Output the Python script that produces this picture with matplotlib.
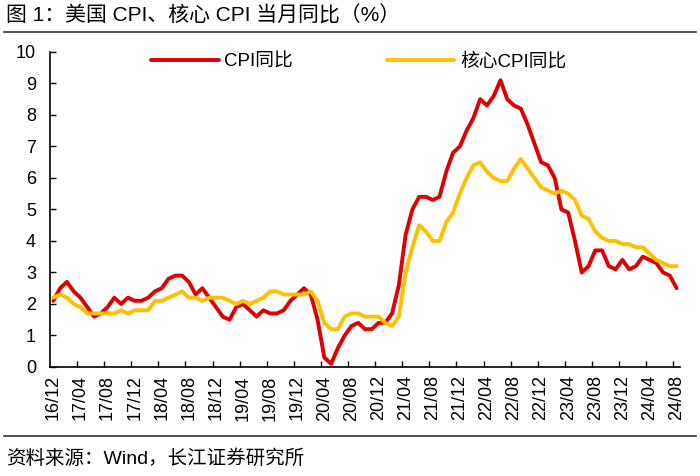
import numpy as np
import matplotlib
matplotlib.use("Agg")
import matplotlib.pyplot as plt

plt.rcParams['font.family'] = ['Liberation Sans', 'Noto Sans CJK SC', 'DejaVu Sans']

# monthly, 2016/12 - 2024/08
start_year, start_month = 2016, 12
cpi = [2.1,
       2.5, 2.7, 2.4, 2.2, 1.9, 1.6, 1.7, 1.9, 2.2, 2.0, 2.2, 2.1,
       2.1, 2.2, 2.4, 2.5, 2.8, 2.9, 2.9, 2.7, 2.3, 2.5, 2.2, 1.9,
       1.6, 1.5, 1.9, 2.0, 1.8, 1.6, 1.8, 1.7, 1.7, 1.8, 2.1, 2.3,
       2.5, 2.3, 1.5, 0.3, 0.1, 0.6, 1.0, 1.3, 1.4, 1.2, 1.2, 1.4,
       1.4, 1.7, 2.6, 4.2, 5.0, 5.4, 5.4, 5.3, 5.4, 6.2, 6.8, 7.0,
       7.5, 7.9, 8.5, 8.3, 8.6, 9.1, 8.5, 8.3, 8.2, 7.7, 7.1, 6.5,
       6.4, 6.0, 5.0, 4.9, 4.0, 3.0, 3.2, 3.7, 3.7, 3.2, 3.1, 3.4,
       3.1, 3.2, 3.5, 3.4, 3.3, 3.0, 2.9, 2.5]
core_cpi = [2.2,
            2.3, 2.2, 2.0, 1.9, 1.7, 1.7, 1.7, 1.7, 1.7, 1.8, 1.7, 1.8,
            1.8, 1.8, 2.1, 2.1, 2.2, 2.3, 2.4, 2.2, 2.2, 2.1, 2.2, 2.2,
            2.2, 2.1, 2.0, 2.1, 2.0, 2.1, 2.2, 2.4, 2.4, 2.3, 2.3, 2.3,
            2.3, 2.4, 2.1, 1.4, 1.2, 1.2, 1.6, 1.7, 1.7, 1.6, 1.6, 1.6,
            1.4, 1.3, 1.6, 3.0, 3.8, 4.5, 4.3, 4.0, 4.0, 4.6, 4.9, 5.5,
            6.0, 6.4, 6.5, 6.2, 6.0, 5.9, 5.9, 6.3, 6.6, 6.3, 6.0, 5.7,
            5.6, 5.5, 5.6, 5.5, 5.3, 4.8, 4.7, 4.3, 4.1, 4.0, 4.0, 3.9,
            3.9, 3.8, 3.8, 3.6, 3.4, 3.3, 3.2, 3.2]

labels = []
y, m = start_year, start_month
for _ in cpi:
    labels.append(f"{y % 100:02d}/{m:02d}")
    m += 1
    if m > 12:
        m = 1
        y += 1

x = np.arange(len(cpi))

fig = plt.figure(figsize=(7, 4.76), dpi=100)
ax = fig.add_axes([0.0714, 0.229, 0.9, 0.662])

ax.plot(x, cpi, color='#E00000', lw=2.8, solid_joinstyle='round', solid_capstyle='round', label='CPI同比')
ax.plot(x, core_cpi, color='#FFC000', lw=2.8, solid_joinstyle='round', solid_capstyle='round', label='核心CPI同比')

ax.set_xlim(-0.5, len(cpi) - 0.5)
ax.set_ylim(0, 10)
ax.set_yticks(range(0, 11))

lab_idx = list(range(0, len(cpi), 4))
ax.set_xticks(lab_idx)
ax.set_xticklabels([labels[i] for i in lab_idx], rotation=90, fontsize=13)
ax.set_xticks([i - 0.5 for i in lab_idx[1:]], minor=True)
ax.tick_params(axis='x', which='major', length=0, pad=6)
ax.tick_params(axis='x', which='minor', length=4, direction='in', width=1)
ax.tick_params(axis='y', length=4, direction='in', width=1, labelsize=13, pad=10)

for s in ['top', 'right']:
    ax.spines[s].set_visible(False)
for s in ['left', 'bottom']:
    ax.spines[s].set_linewidth(1.2)

ax.legend(loc='upper center', bbox_to_anchor=(0.49, 1.05), ncol=2, frameon=False,
          fontsize=13.5, handlelength=3.6, columnspacing=5.0, handletextpad=0.3)

fig.text(0.008, 0.968, '图 1：美国 CPI、核心 CPI 当月同比（%）', fontsize=15, va='center', ha='left')
fig.add_artist(plt.Line2D([0.006, 0.994], [0.933, 0.933], color='#333333', lw=1.2))
fig.add_artist(plt.Line2D([0.006, 0.994], [0.084, 0.084], color='#333333', lw=1.2))
fig.text(0.008, 0.037, '资料来源：Wind，长江证券研究所', fontsize=14, va='center', ha='left')

fig.savefig('out.png', dpi=100)
